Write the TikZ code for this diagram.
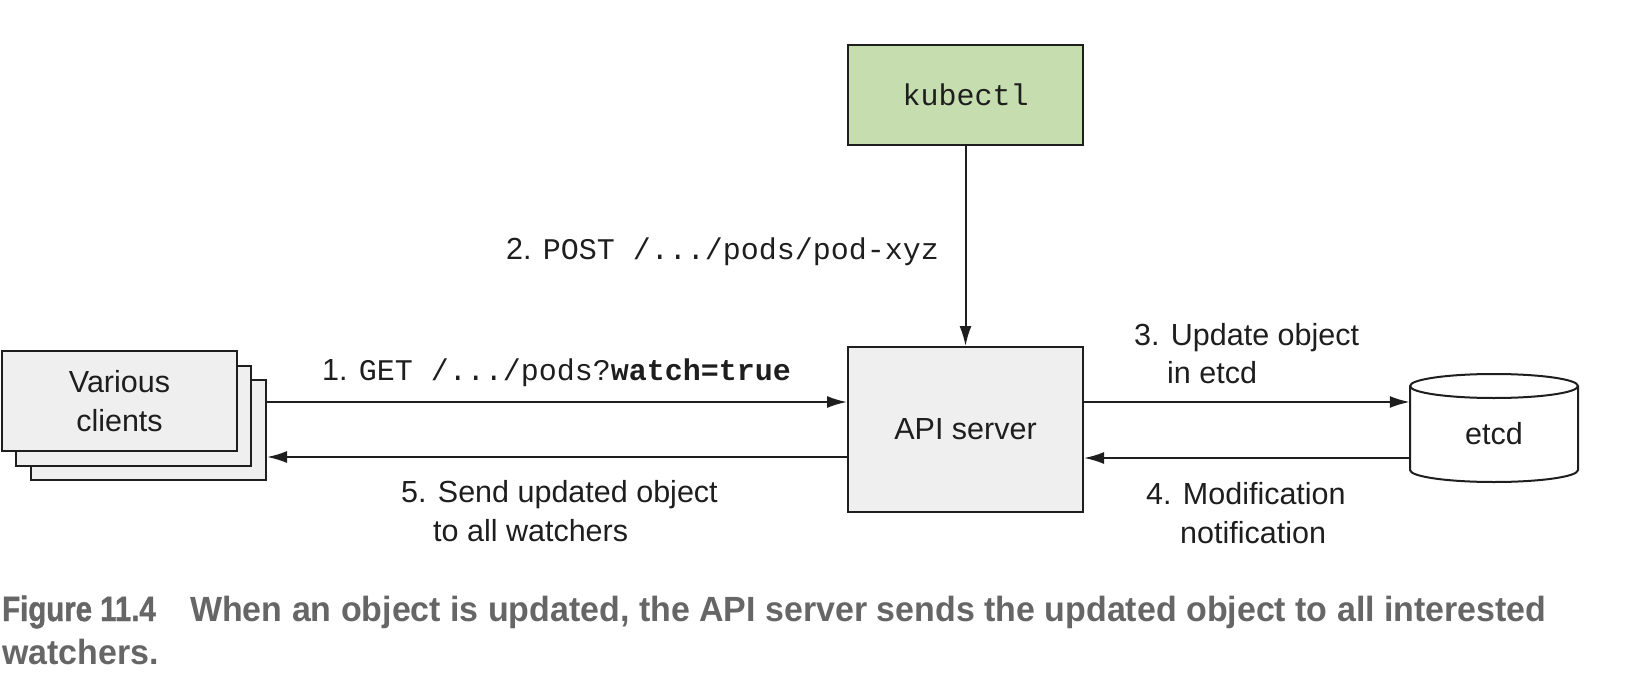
\documentclass[tikz,border=0pt]{standalone}
\usepackage{fontspec}
\setmainfont{Liberation Sans}
\setmonofont{Liberation Mono}
\newfontfamily\capfontA[FakeStretch=0.84,FakeBold=1.2]{Liberation Sans}
\newfontfamily\capfontB[FakeStretch=0.97]{Liberation Sans}
\usetikzlibrary{arrows.meta}
\definecolor{boxfill}{HTML}{EFEFEF}
\definecolor{kubefill}{HTML}{C5DDAF}
\definecolor{ink}{HTML}{1E1E1E}
\definecolor{capgray}{HTML}{666666}
\tikzset{
  box/.style={draw=ink, line width=2pt, fill=boxfill, minimum width=235pt, inner sep=0pt, text=ink,
    font=\fontsize{30.5}{39}\selectfont, align=center},
  conn/.style={draw=ink, line width=2pt, -{Latex[length=20pt,width=12pt]}},
  lbl/.style={anchor=base west, inner sep=0pt, text=ink, font=\fontsize{30.5}{34}\selectfont},
  captext/.style={anchor=base west, inner sep=0pt, text=capgray, font=\capfontB\bfseries\fontsize{35}{40}\selectfont},
}
\begin{document}
\begin{tikzpicture}[x=1pt,y=-1pt]
\useasboundingbox (0,0) rectangle (1632,690);
% stacked clients
\node[box, minimum height=100pt] (c3) at (148.5,430) {};
\node[box, minimum height=100pt] (c2) at (133.5,415.5) {};
\node[box, minimum height=100pt] (c1) at (119.5,401) {Various\\clients};
% api server
\node[box, minimum height=165pt] (api) at (965.5,429.5) {API server};
% kubectl
\node[box, minimum height=100pt, fill=kubefill, font=\ttfamily\fontsize{30}{36}\selectfont] (kube) at (965.5,95) {kubectl};
% etcd cylinder
\draw[ink, line width=2pt, fill=white] (1410,386) -- (1410,470) arc[start angle=180, end angle=360, x radius=84pt, y radius=12pt] -- (1578,386) arc[start angle=0, end angle=180, x radius=84pt, y radius=12pt] -- cycle;
\draw[ink, line width=2pt] (1410,386) arc[start angle=180, end angle=360, x radius=84pt, y radius=12pt];
\node[inner sep=0pt, minimum width=168pt, minimum height=96pt, text=ink, font=\fontsize{30.5}{34}\selectfont] (etcd) at (1494,434) {etcd};
% connectors
\coordinate (a1s) at (c3.east |- 0,402);
\coordinate (a1e) at (api.west |- 0,402);
\coordinate (a5s) at (api.west |- 0,457);
\coordinate (a5e) at (c3.east |- 0,457);
\coordinate (a3s) at (api.east |- 0,402);
\coordinate (a3e) at (etcd.west |- 0,402);
\coordinate (a4s) at (etcd.west |- 0,458);
\coordinate (a4e) at (api.east |- 0,458);
\draw[conn] (a1s) -- (a1e);
\draw[conn] (a5s) -- (a5e);
\draw[conn] (a3s) -- (a3e);
\draw[conn] (a4s) -- (a4e);
\draw[conn] (kube.south) -- (api.north);
% labels
\node[lbl] (l1) at (322,380) {1. \texttt{\fontsize{30}{34}\selectfont GET /.../pods?\textbf{watch=true}}};
\node[lbl] (l2) at (506,259) {2. \texttt{\fontsize{30}{34}\selectfont POST /.../pods/pod-xyz}};
\node[lbl] (l3a) at (1134,345) {3. Update object};
\node[lbl] (l3b) at (1167,383) {in etcd};
\node[lbl] (l4a) at (1146,504) {4. Modification};
\node[lbl] (l4b) at (1180,543) {notification};
\node[lbl] (l5a) at (401,502) {5. Send updated object};
\node[lbl] (l5b) at (433,541) {to all watchers};
% caption
\node[captext, font=\capfontA\bfseries\fontsize{35}{40}\selectfont] (capa) at (2,621) {Figure 11.4};
\node[captext] (capb) at (190,621) {When an object is updated, the API server sends the updated object to all interested};
\node[captext] (capc) at (2,664) {watchers.};
\end{tikzpicture}
\end{document}
